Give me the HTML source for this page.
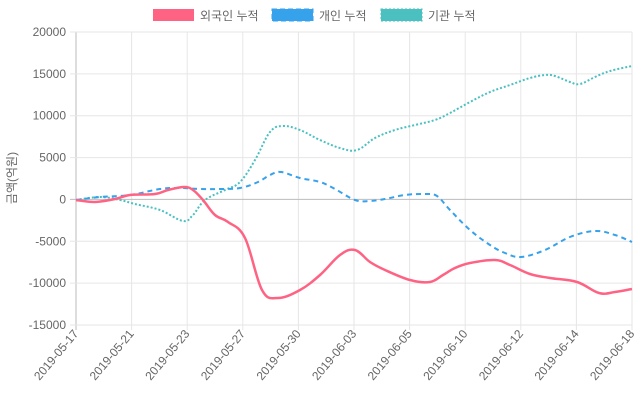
<!DOCTYPE html>
<html><head><meta charset="utf-8"><style>
body{margin:0;background:#fff;}
svg{display:block;font-family:"Liberation Sans","Noto Sans CJK KR",sans-serif;}
</style></head><body>
<svg id="s" width="640" height="400" xmlns="http://www.w3.org/2000/svg">
<g id="grid" stroke="#e6e6e6" stroke-width="1"></g>
<g id="lab" fill="#666" font-size="12"></g>
<text transform="translate(16,178) rotate(-90)" text-anchor="middle" font-size="12" fill="#666">금액(억원)</text>
<rect x="153" y="9" width="41" height="12" fill="#ff6384"/>
<text x="200" y="20" font-size="12" fill="#666">외국인 누적</text>
<rect x="272" y="9" width="41" height="12" fill="#36a2eb" stroke="#36a2eb" stroke-dasharray="5,3"/>
<text x="319" y="20" font-size="12" fill="#666">개인 누적</text>
<rect x="381" y="9" width="41" height="12" fill="#4bc0c0" stroke="#4bc0c0" stroke-dasharray="2,2"/>
<text x="428" y="20" font-size="12" fill="#666">기관 누적</text>
<path id="teal" fill="none" stroke="#4bc0c0" stroke-width="2" stroke-dasharray="2,2"/>
<path id="blue" fill="none" stroke="#36a2eb" stroke-width="2" stroke-dasharray="5,4"/>
<path id="red" fill="none" stroke="#ff6384" stroke-width="2.5"/>
</svg>
<script>
var g=document.getElementById('grid'),l=document.getElementById('lab'),ns="http://www.w3.org/2000/svg";
function el(p,t,a,txt){var e=document.createElementNS(ns,t);for(var k in a)e.setAttribute(k,a[k]);if(txt)e.textContent=txt;p.appendChild(e);return e;}
var x0=76,x1=632,dx=(x1-x0)/10;
var dates=["2019-05-17","2019-05-21","2019-05-23","2019-05-27","2019-05-30","2019-06-03","2019-06-05","2019-06-10","2019-06-12","2019-06-14","2019-06-18"];
for(var i=0;i<=10;i++){var x=x0+i*dx;el(g,'line',{x1:x,x2:x,y1:32,y2:330,stroke:i==0?'#bbb':'#e6e6e6'});
el(l,'text',{transform:'translate('+(x+3)+',334) rotate(-50)','text-anchor':'end'},dates[i]);}
for(var j=0;j<=7;j++){var v=20000-5000*j,y=32+j*(293/7);
el(g,'line',{x1:70,x2:x1,y1:y,y2:y,stroke:v==0?'#bbb':'#e6e6e6'});
el(l,'text',{x:66,y:y+4,'text-anchor':'end'},String(v));}
function path(pts){var d="M"+pts[0][0]+","+pts[0][1];for(var i=0;i<pts.length-1;i++){var p0=pts[i-1]||pts[i],p1=pts[i],p2=pts[i+1],p3=pts[i+2]||p2,t=0.18;
d+=" C"+(p1[0]+(p2[0]-p0[0])*t)+","+(p1[1]+(p2[1]-p0[1])*t)+" "+(p2[0]-(p3[0]-p1[0])*t)+","+(p2[1]-(p3[1]-p1[1])*t)+" "+p2[0]+","+p2[1];}return d;}
document.getElementById('red').setAttribute('d',path([[76,200],[95,202],[115,199],[130,195],[155,194],[168,190],[184,187],[193,190],[203,200],[215,215],[228,222],[245,238],[262,290],[278,298],[300,290],[320,275],[340,255],[355,250],[370,262],[385,270],[410,280],[430,282],[443,275],[455,268],[470,263],[495,260],[510,265],[530,274],[550,278],[577,282],[599,293],[615,292],[632,289]]));
document.getElementById('blue').setAttribute('d',path([[76,200],[100,197],[130,195],[160,189],[180,188],[200,189],[220,189],[240,188],[258,182],[270,175],[281,172],[300,178],[320,182],[335,189],[355,200],[370,201],[385,199],[405,195],[425,194],[437,196],[450,210],[470,230],[490,245],[505,253],[521,257],[545,250],[570,237],[595,231],[615,235],[632,242]]));
document.getElementById('teal').setAttribute('d',path([[76,200],[100,197],[120,200],[135,204],[160,210],[183,221],[193,215],[205,200],[225,190],[240,182],[255,160],[270,132],[283,126],[300,130],[320,140],[340,148],[357,150],[375,138],[395,130],[415,125],[435,120],[450,113],[470,102],[490,92],[510,85],[530,78],[545,75],[555,76],[570,82],[580,84],[595,77],[610,71],[632,66]]));
</script>
</body></html>
